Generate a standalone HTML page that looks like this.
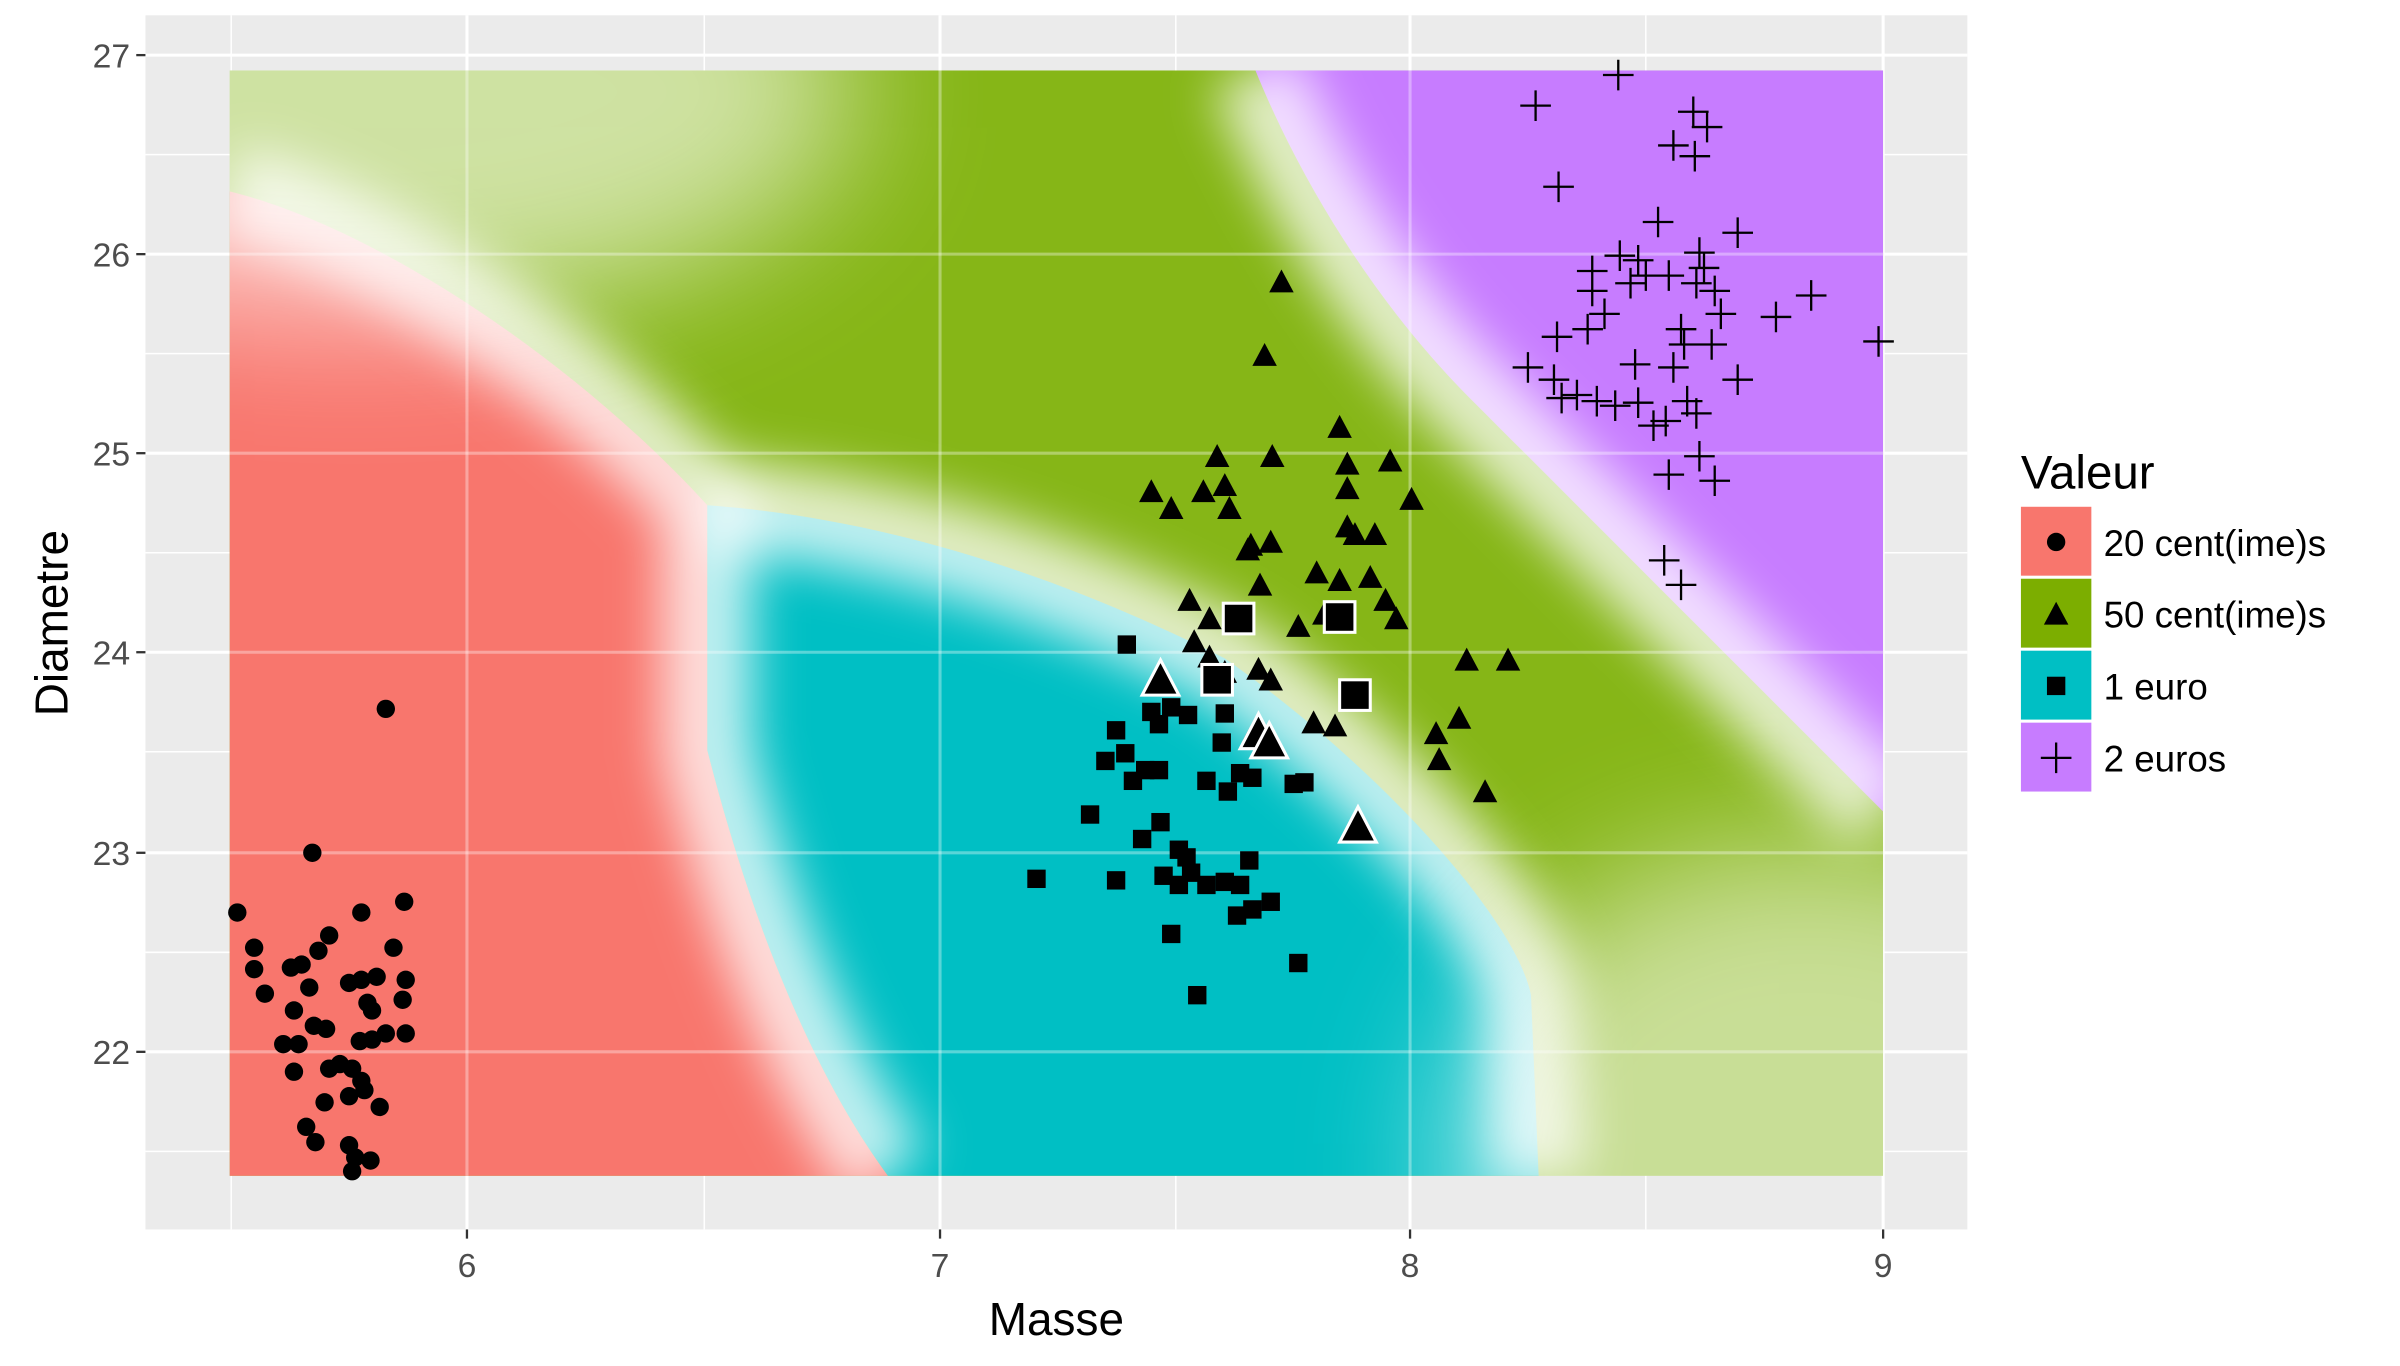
<!DOCTYPE html>
<html><head><meta charset="utf-8"><style>html,body{margin:0;padding:0;background:#fff;width:2400px;height:1366px;overflow:hidden}svg{display:block}</style></head><body>
<svg width="2400" height="1366" viewBox="0 0 1567.6 892.2" preserveAspectRatio="none" xmlns="http://www.w3.org/2000/svg" font-family="Liberation Sans, Arial, sans-serif">
<defs>
<filter id="b" x="-20%" y="-20%" width="140%" height="140%"><feGaussianBlur stdDeviation="16"/></filter>
<filter id="b2" x="-50%" y="-50%" width="200%" height="200%"><feGaussianBlur stdDeviation="45"/></filter>
<clipPath id="r"><rect x="150" y="46" width="1080" height="722"/></clipPath>
<g id="tri"><path d="M0,-9 L8,6 L-8,6 Z"/></g>
</defs>
<rect x="0" y="0" width="1568" height="893" fill="#fff"/>
<rect x="95" y="10" width="1190" height="793" fill="#ebebeb"/>
<g stroke="#fff" stroke-width="1">
<line x1="151" y1="10" x2="151" y2="803"/><line x1="460" y1="10" x2="460" y2="803"/><line x1="768" y1="10" x2="768" y2="803"/><line x1="1075" y1="10" x2="1075" y2="803"/>
<line x1="95" y1="101" x2="1285" y2="101"/><line x1="95" y1="231" x2="1285" y2="231"/><line x1="95" y1="361" x2="1285" y2="361"/><line x1="95" y1="491" x2="1285" y2="491"/><line x1="95" y1="622" x2="1285" y2="622"/><line x1="95" y1="752" x2="1285" y2="752"/>
</g>
<g stroke="#fff" stroke-width="2">
<line x1="305" y1="10" x2="305" y2="803"/><line x1="614" y1="10" x2="614" y2="803"/><line x1="921" y1="10" x2="921" y2="803"/><line x1="1230" y1="10" x2="1230" y2="803"/>
<line x1="95" y1="36" x2="1285" y2="36"/><line x1="95" y1="166" x2="1285" y2="166"/><line x1="95" y1="296" x2="1285" y2="296"/><line x1="95" y1="426" x2="1285" y2="426"/><line x1="95" y1="557" x2="1285" y2="557"/><line x1="95" y1="687" x2="1285" y2="687"/>
</g>
<g clip-path="url(#r)">
<rect x="150" y="46" width="1080" height="722" fill="#86b617"/>
<path d="M150,125 C250,150 380,240 462,330 L462,490 C490,600 530,700 580,768 L150,768 Z" fill="#f8766d"/>
<path d="M462,330 C600,340 720,390 800,430 C900,500 990,600 1000,650 L1005,768 L580,768 C530,700 490,600 462,490 Z" fill="#00bfc4"/>
<path d="M820,46 C850,120 900,200 960,260 C1050,350 1150,450 1230,530 L1230,46 Z" fill="#c77cff"/>
<g filter="url(#b)" fill="none" stroke="#fff" stroke-opacity="0.75" stroke-width="60">
<path d="M150,125 C250,150 380,240 462,330 L462,490 C490,600 530,700 580,768"/>
<path d="M462,330 C600,340 720,390 800,430 C900,500 990,600 1000,650 L1005,768"/>
<path d="M820,46 C850,120 900,200 960,260 C1050,350 1150,450 1230,530"/>
</g>
<ellipse cx="230" cy="60" rx="330" ry="150" fill="#fff" opacity="0.6" filter="url(#b2)"/>
<ellipse cx="1180" cy="760" rx="240" ry="210" fill="#fff" opacity="0.55" filter="url(#b2)"/>
<g stroke="#fff" stroke-opacity="0.35" stroke-width="2">
<line x1="305" y1="10" x2="305" y2="803"/><line x1="614" y1="10" x2="614" y2="803"/><line x1="921" y1="10" x2="921" y2="803"/>
<line x1="95" y1="166" x2="1285" y2="166"/><line x1="95" y1="296" x2="1285" y2="296"/><line x1="95" y1="426" x2="1285" y2="426"/><line x1="95" y1="557" x2="1285" y2="557"/><line x1="95" y1="687" x2="1285" y2="687"/>
</g>
</g>
<g fill="#000">
<circle cx="155" cy="596" r="6"/><circle cx="166" cy="619" r="6"/><circle cx="166" cy="633" r="6"/><circle cx="173" cy="649" r="6"/><circle cx="185" cy="682" r="6"/><circle cx="195" cy="682" r="6"/><circle cx="192" cy="660" r="6"/><circle cx="190" cy="632" r="6"/><circle cx="197" cy="630" r="6"/><circle cx="202" cy="645" r="6"/><circle cx="208" cy="621" r="6"/><circle cx="215" cy="611" r="6"/><circle cx="204" cy="557" r="6"/><circle cx="252" cy="463" r="6"/><circle cx="264" cy="589" r="6"/><circle cx="257" cy="619" r="6"/><circle cx="265" cy="640" r="6"/><circle cx="263" cy="653" r="6"/><circle cx="265" cy="675" r="6"/><circle cx="252" cy="675" r="6"/><circle cx="243" cy="660" r="6"/><circle cx="246" cy="638" r="6"/><circle cx="236" cy="640" r="6"/><circle cx="228" cy="642" r="6"/><circle cx="236" cy="596" r="6"/><circle cx="240" cy="655" r="6"/><circle cx="235" cy="680" r="6"/><circle cx="243" cy="679" r="6"/><circle cx="230" cy="698" r="6"/><circle cx="236" cy="706" r="6"/><circle cx="228" cy="716" r="6"/><circle cx="248" cy="723" r="6"/><circle cx="238" cy="712" r="6"/><circle cx="212" cy="720" r="6"/><circle cx="215" cy="698" r="6"/><circle cx="200" cy="736" r="6"/><circle cx="206" cy="746" r="6"/><circle cx="228" cy="748" r="6"/><circle cx="232" cy="756" r="6"/><circle cx="242" cy="758" r="6"/><circle cx="230" cy="765" r="6"/><circle cx="213" cy="672" r="6"/><circle cx="205" cy="670" r="6"/><circle cx="222" cy="695" r="6"/><circle cx="192" cy="700" r="6"/>
</g>
<g fill="#000">
<use href="#tri" x="837" y="185"/><use href="#tri" x="826" y="233"/><use href="#tri" x="831" y="299"/><use href="#tri" x="875" y="280"/><use href="#tri" x="795" y="299"/><use href="#tri" x="880" y="304"/><use href="#tri" x="908" y="302"/><use href="#tri" x="880" y="320"/><use href="#tri" x="752" y="322"/><use href="#tri" x="765" y="333"/><use href="#tri" x="786" y="322"/><use href="#tri" x="800" y="318"/><use href="#tri" x="803" y="333"/><use href="#tri" x="817" y="357"/><use href="#tri" x="830" y="355"/><use href="#tri" x="880" y="345"/><use href="#tri" x="885" y="350"/><use href="#tri" x="898" y="350"/><use href="#tri" x="922" y="327"/><use href="#tri" x="777" y="393"/><use href="#tri" x="823" y="383"/><use href="#tri" x="860" y="375"/><use href="#tri" x="875" y="380"/><use href="#tri" x="895" y="378"/><use href="#tri" x="905" y="393"/><use href="#tri" x="912" y="405"/><use href="#tri" x="848" y="410"/><use href="#tri" x="865" y="402"/><use href="#tri" x="780" y="420"/><use href="#tri" x="790" y="430"/><use href="#tri" x="800" y="440"/><use href="#tri" x="822" y="438"/><use href="#tri" x="830" y="445"/><use href="#tri" x="958" y="432"/><use href="#tri" x="985" y="432"/><use href="#tri" x="858" y="473"/><use href="#tri" x="872" y="475"/><use href="#tri" x="938" y="480"/><use href="#tri" x="953" y="470"/><use href="#tri" x="940" y="497"/><use href="#tri" x="970" y="518"/><use href="#tri" x="820" y="477"/><use href="#tri" x="815" y="360"/><use href="#tri" x="790" y="405"/>
</g>
<g fill="#000">
<rect x="730" y="415" width="12" height="12"/><rect x="723" y="471" width="12" height="12"/><rect x="729" y="486" width="12" height="12"/><rect x="716" y="491" width="12" height="12"/><rect x="734" y="504" width="12" height="12"/><rect x="742" y="497" width="12" height="12"/><rect x="751" y="497" width="12" height="12"/><rect x="751" y="467" width="12" height="12"/><rect x="759" y="456" width="12" height="12"/><rect x="770" y="461" width="12" height="12"/><rect x="794" y="460" width="12" height="12"/><rect x="792" y="479" width="12" height="12"/><rect x="782" y="504" width="12" height="12"/><rect x="796" y="511" width="12" height="12"/><rect x="804" y="499" width="12" height="12"/><rect x="812" y="502" width="12" height="12"/><rect x="839" y="506" width="12" height="12"/><rect x="846" y="505" width="12" height="12"/><rect x="706" y="526" width="12" height="12"/><rect x="752" y="531" width="12" height="12"/><rect x="740" y="542" width="12" height="12"/><rect x="764" y="549" width="12" height="12"/><rect x="769" y="554" width="12" height="12"/><rect x="772" y="564" width="12" height="12"/><rect x="754" y="566" width="12" height="12"/><rect x="764" y="572" width="12" height="12"/><rect x="782" y="572" width="12" height="12"/><rect x="794" y="570" width="12" height="12"/><rect x="804" y="572" width="12" height="12"/><rect x="810" y="556" width="12" height="12"/><rect x="824" y="583" width="12" height="12"/><rect x="812" y="588" width="12" height="12"/><rect x="802" y="592" width="12" height="12"/><rect x="671" y="568" width="12" height="12"/><rect x="723" y="569" width="12" height="12"/><rect x="759" y="604" width="12" height="12"/><rect x="842" y="623" width="12" height="12"/><rect x="776" y="644" width="12" height="12"/><rect x="746" y="459" width="12" height="12"/>
</g>
<g fill="#000" stroke="#fff" stroke-width="2">
<rect x="799" y="394" width="20" height="20"/><rect x="785" y="434" width="20" height="20"/><rect x="865" y="393" width="20" height="20"/><rect x="875" y="444" width="20" height="20"/>
<path d="M758,431 L770,454 L746,454 Z"/><path d="M822,466 L834,489 L810,489 Z"/><path d="M829,472 L841,495 L817,495 Z"/><path d="M887,527 L899,550 L875,550 Z"/>
</g>
<g stroke="#000" stroke-width="1.5" fill="none">
<path d="M993,69h20M1003,59v20 M1047,49h20M1057,39v20 M1008,122h20M1018,112v20 M1096,73h20M1106,63v20 M1105,83h20M1115,73v20 M1083,95h20M1093,85v20 M1097,102h20M1107,92v20 M1073,145h20M1083,135v20 M1048,167h20M1058,157v20 M1060,170h20M1070,160v20 M1030,177h20M1040,167v20 M1100,165h20M1110,155v20 M1103,175h20M1113,165v20 M1125,152h20M1135,142v20 M1065,180h20M1075,170v20 M1080,180h20M1090,170v20 M1098,185h20M1108,175v20 M1110,190h20M1120,180v20 M1055,185h20M1065,175v20 M1030,190h20M1040,180v20 M1150,207h20M1160,197v20 M1173,193h20M1183,183v20 M1114,205h20M1124,195v20 M1038,205h20M1048,195v20 M1027,215h20M1037,205v20 M1007,220h20M1017,210v20 M1088,215h20M1098,205v20 M1090,225h20M1100,215v20 M1108,225h20M1118,215v20 M1083,240h20M1093,230v20 M1005,248h20M1015,238v20 M988,240h20M998,230v20 M1058,238h20M1068,228v20 M1125,248h20M1135,238v20 M1010,260h20M1020,250v20 M1020,258h20M1030,248v20 M1033,262h20M1043,252v20 M1045,265h20M1055,255v20 M1060,263h20M1070,253v20 M1092,262h20M1102,252v20 M1098,270h20M1108,260v20 M1070,278h20M1080,268v20 M1078,275h20M1088,265v20 M1217,223h20M1227,213v20 M1100,298h20M1110,288v20 M1080,310h20M1090,300v20 M1110,314h20M1120,304v20 M1077,366h20M1087,356v20 M1088,382h20M1098,372v20"/>
</g>
<g stroke="#333" stroke-width="1.5">
<line x1="305" y1="803" x2="305" y2="809"/><line x1="614" y1="803" x2="614" y2="809"/><line x1="921" y1="803" x2="921" y2="809"/><line x1="1230" y1="803" x2="1230" y2="809"/>
<line x1="89" y1="36" x2="95" y2="36"/><line x1="89" y1="166" x2="95" y2="166"/><line x1="89" y1="296" x2="95" y2="296"/><line x1="89" y1="426" x2="95" y2="426"/><line x1="89" y1="557" x2="95" y2="557"/><line x1="89" y1="687" x2="95" y2="687"/>
</g>
<g fill="#4d4d4d" font-size="22">
<g text-anchor="middle"><text x="305" y="834">6</text><text x="614" y="834">7</text><text x="921" y="834">8</text><text x="1230" y="834">9</text></g>
<g text-anchor="end"><text x="85" y="44">27</text><text x="85" y="174">26</text><text x="85" y="304">25</text><text x="85" y="434">24</text><text x="85" y="565">23</text><text x="85" y="695">22</text></g>
</g>
<text x="690" y="872" font-size="30" text-anchor="middle" fill="#000">Masse</text>
<text transform="translate(44,407) rotate(-90)" font-size="30" text-anchor="middle" fill="#000">Diametre</text>
<text x="1320" y="319" font-size="31" fill="#000">Valeur</text>
<rect x="1320" y="331" width="46" height="45" fill="#f8766d"/>
<rect x="1320" y="378" width="46" height="45" fill="#7cae00"/>
<rect x="1320" y="425" width="46" height="45" fill="#00bfc4"/>
<rect x="1320" y="472" width="46" height="45" fill="#c77cff"/>
<circle cx="1343" cy="354" r="6" fill="#000"/>
<use href="#tri" x="1343" y="402" fill="#000"/>
<rect x="1337" y="442" width="12" height="12" fill="#000"/>
<path d="M1333,495h20M1343,485v20" stroke="#000" stroke-width="1.5"/>
<g font-size="24" fill="#000"><text x="1374" y="363">20 cent(ime)s</text><text x="1374" y="410">50 cent(ime)s</text><text x="1374" y="457">1 euro</text><text x="1374" y="504">2 euros</text></g>
</svg>
</body></html>
